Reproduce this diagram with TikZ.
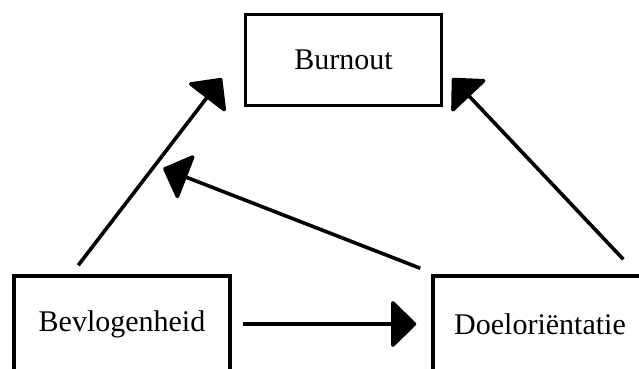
\documentclass[tikz,border=0pt]{standalone}
\usepackage{fontspec}
\setmainfont{Liberation Serif}
\usetikzlibrary{arrows.meta,calc}
\begin{document}
\begin{tikzpicture}[x=1pt,y=1pt,
    blok/.style={draw, line width=3.5pt, minimum width=216pt, minimum height=96pt, inner sep=0pt, font=\fontsize{30}{36}\selectfont},
    pijl/.style={line width=3.6pt, -{Triangle[length=26pt,width=50pt,round]}}]
    \useasboundingbox (0,0) rectangle (639,368);
    \clip (0,0) rectangle (639,368);
    % Vakken
    \node[blok, minimum width=196pt, minimum height=91pt] (burn) at (343.5,308) {Burnout};
    \node[blok] (bevl) at (122,44) {Bevlogenheid};
    \node[blok, minimum width=214pt] (doel) at (540,44) {Doeloriëntatie};
    % Pijlen
    \draw[pijl] ($(bevl.north west)+(66,9)$) -- ($(burn.south west)+(-22,29)$);
    \draw[pijl] ($(doel.north west)+(192,15)$) -- ($(burn.south east)+(9,29)$);
    \draw[pijl] ($(doel.north west)+(-11,6)$) -- ($(bevl.north west)+(151,106)$);
    \draw[pijl, shorten <=11pt, shorten >=15pt] (bevl.east) -- (doel.west);
\end{tikzpicture}
\end{document}
